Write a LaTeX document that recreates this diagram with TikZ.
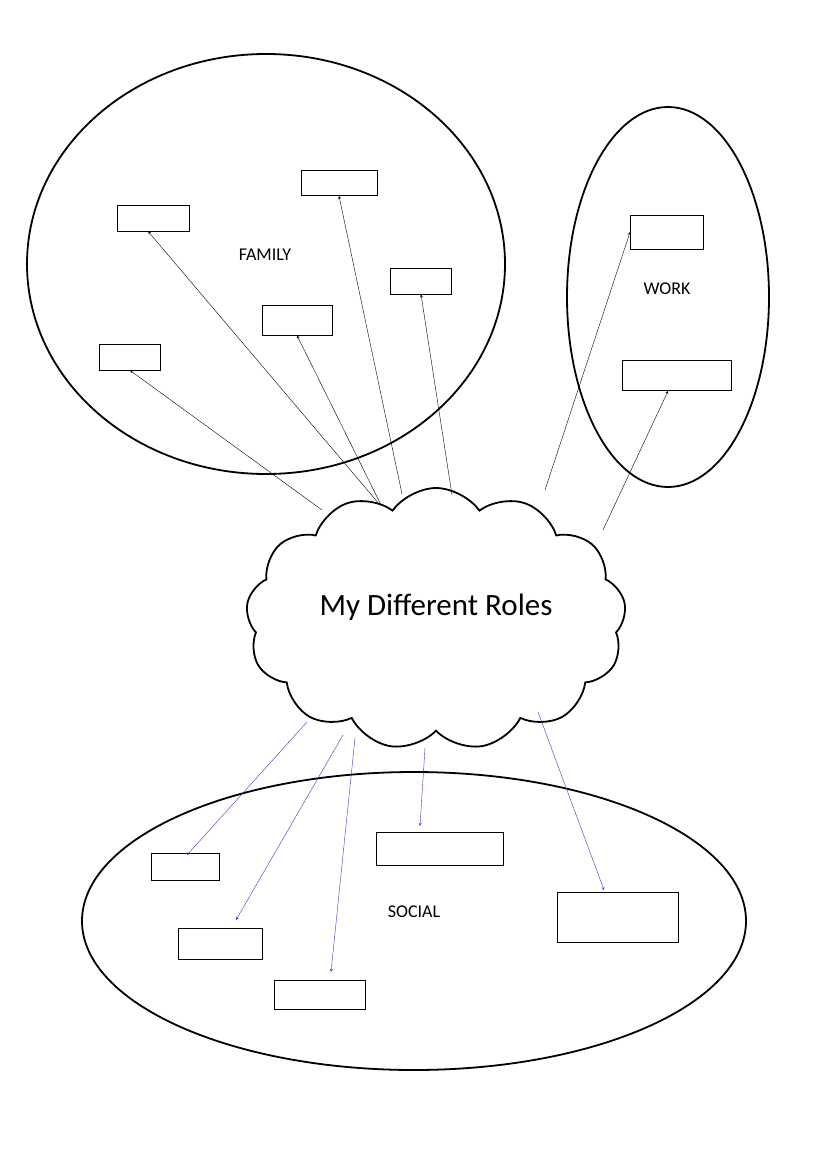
\documentclass[tikz,border=0pt]{standalone}
\usepackage{fontspec}
\setmainfont{Carlito}
\usetikzlibrary{shapes.symbols}

\tikzset{
	role/.style={draw, thick, rectangle, inner sep=0pt},
	famarrow/.style={-stealth, thin},
	socarrow/.style={-stealth, thin, color=blue!55!gray}
}

\begin{document}
\begin{tikzpicture}[x=1pt, y=-1pt]
	\useasboundingbox (0,0) rectangle (826,1169);
	% the three areas
	\draw[line width=1.8pt] (266,264) ellipse (239 and 210);
	\draw[line width=1.8pt] (668,297) ellipse (101 and 190);
	\draw[line width=1.8pt] (414,921) ellipse (332 and 149);
	\node (family) at (265,255) {\fontsize{18}{20}\selectfont FAMILY};
	\node (work) at (667,289) {\fontsize{18}{20}\selectfont WORK};
	\node (social) at (414,912) {\fontsize{18}{20}\selectfont SOCIAL};
	% the cloud
	\node[cloud, draw, line width=1.8pt, fill=white, cloud puffs=13, cloud puff arc=110,
		minimum width=380pt, minimum height=262pt, aspect=1.45] (roles) at (436,619) {};
	\node (title) at (436,607) {\fontsize{31}{34}\selectfont My Different Roles};
	% role boxes
	\node[role, minimum width=72pt, minimum height=26pt] (fam1) at (153,218) {};
	\node[role, minimum width=76pt, minimum height=25pt] (fam2) at (339,183) {};
	\node[role, minimum width=61pt, minimum height=26pt] (fam3) at (421,281) {};
	\node[role, minimum width=70pt, minimum height=30pt] (fam4) at (297,320) {};
	\node[role, minimum width=61pt, minimum height=26pt] (fam5) at (130,357) {};
	\node[role, minimum width=73pt, minimum height=34pt] (work1) at (667,232) {};
	\node[role, minimum width=109pt, minimum height=30pt] (work2) at (677,375) {};
	\node[role, minimum width=68pt, minimum height=27pt] (soc1) at (185,867) {};
	\node[role, minimum width=127pt, minimum height=33pt] (soc2) at (440,849) {};
	\node[role, minimum width=121pt, minimum height=50pt] (soc3) at (618,917) {};
	\node[role, minimum width=84pt, minimum height=31pt] (soc4) at (220,944) {};
	\node[role, minimum width=91pt, minimum height=29pt] (soc5) at (320,995) {};
	% arrow ends
	\coordinate (f5a) at (322,510);
	\coordinate (f1a) at (380,505);
	\coordinate (f4a) at (381,505);
	\coordinate (f2a) at (402,494);
	\coordinate (f3a) at (452,495);
	\coordinate (w1a) at (545,490);
	\coordinate (w2a) at (603,530);
	\coordinate (s1a) at (307,722);
	\coordinate (s4a) at (343,735);
	\coordinate (s5a) at (355,738);
	\coordinate (s2a) at (425,748);
	\coordinate (s3a) at (538,712);
	\coordinate (s1b) at (187,855);
	\coordinate (s4b) at (236,920);
	\coordinate (s5b) at (331,972);
	\coordinate (s2b) at (420,826);
	\coordinate (s3b) at (604,890);
	\coordinate (w2b) at (668,391);
	\draw[famarrow] (f5a) -- (fam5.south);
	\draw[famarrow] (f1a) -- (fam1.250);
	\draw[famarrow] (f4a) -- (fam4.south);
	\draw[famarrow] (f2a) -- (fam2.south);
	\draw[famarrow] (f3a) -- (fam3.south);
	\draw[famarrow] (w1a) -- (work1.west);
	\draw[famarrow] (w2a) -- (w2b);
	\draw[socarrow] (s1a) -- (s1b);
	\draw[socarrow] (s4a) -- (s4b);
	\draw[socarrow] (s5a) -- (s5b);
	\draw[socarrow] (s2a) -- (s2b);
	\draw[socarrow] (s3a) -- (s3b);
\end{tikzpicture}
\end{document}
